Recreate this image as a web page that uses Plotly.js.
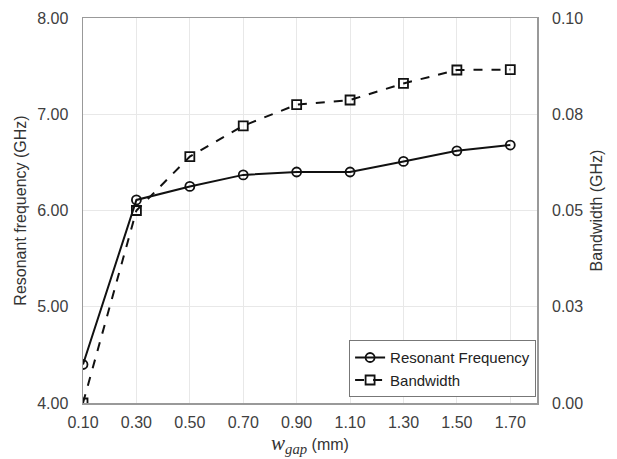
<!DOCTYPE html>
<html>
<head>
<meta charset="utf-8">
<script src="https://cdn.plot.ly/plotly-3.0.1.min.js"></script>
<style>body{margin:0;background:#fff;} #chart{width:617px;height:459px;}</style>
</head>
<body>
<div id="chart"></div>
<script>
const gapWidths = [0.10, 0.30, 0.50, 0.70, 0.90, 1.10, 1.30, 1.50, 1.70];
const resonantFrequency = [4.40, 6.11, 6.25, 6.37, 6.40, 6.40, 6.51, 6.62, 6.68];
const bandwidth = [0.000, 0.050, 0.064, 0.072, 0.0775, 0.0787, 0.0830, 0.0865, 0.0866];
const leftTicks = [4, 5, 6, 7, 8];
const leftTickText = ['4.00', '5.00', '6.00', '7.00', '8.00'];
const rightTicks = [0, 0.025, 0.05, 0.075, 0.1];
const rightTickText = ['0.00', '0.03', '0.05', '0.08', '0.10'];

const fam = 'Liberation Sans, Arial, sans-serif';
const tickFont = {family: fam, size: 16, color: '#404040'};
const titleFont = {family: fam, size: 16, color: '#333'};

const traces = [
  {
    x: gapWidths, y: resonantFrequency, name: 'Resonant Frequency',
    type: 'scatter', mode: 'lines+markers',
    line: {color: '#111', width: 2},
    marker: {symbol: 'circle-open', size: 9, color: '#111', line: {width: 1.8}}
  },
  {
    x: gapWidths, y: bandwidth, name: 'Bandwidth', yaxis: 'y2',
    type: 'scatter', mode: 'lines+markers',
    line: {color: '#111', width: 2, dash: 'dash'},
    marker: {symbol: 'square-open', size: 9, color: '#111', line: {width: 1.8}}
  }
];

const layout = {
  width: 617, height: 459,
  margin: {l: 83, r: 80, t: 18, b: 56},
  paper_bgcolor: '#fff', plot_bgcolor: '#fff',
  font: {family: fam, size: 16, color: '#333'},
  showlegend: true,
  legend: {
    x: 0.998, xanchor: 'right', y: 0.015, yanchor: 'bottom',
    bordercolor: '#777', borderwidth: 1, bgcolor: '#fff',
    font: {family: fam, size: 15, color: '#222'},
    tracegroupgap: 0, itemwidth: 30
  },
  xaxis: {
    range: [0.1, 1.8], tick0: 0.1, dtick: 0.2, tickformat: '.2f',
    showgrid: true, gridcolor: '#e8e8e8', gridwidth: 1,
    showline: true, linecolor: '#999', linewidth: 1.5, mirror: true,
    ticks: '', zeroline: false, ticklabelstandoff: 4,
    tickfont: tickFont,
    title: {text: '<span style="font-family:Liberation Serif, serif;font-style:italic;font-size:21px">w<sub>gap</sub></span> (mm)', font: titleFont, standoff: 4}
  },
  yaxis: {
    range: [4, 8], tickvals: leftTicks, ticktext: leftTickText,
    showgrid: true, gridcolor: '#e8e8e8', gridwidth: 1,
    showline: true, linecolor: '#999', linewidth: 1.5, mirror: true,
    ticks: '', zeroline: false, ticklabelstandoff: 10,
    tickfont: tickFont,
    title: {text: 'Resonant frequency (GHz)', font: titleFont, standoff: 6}
  },
  yaxis2: {
    overlaying: 'y', side: 'right',
    range: [0, 0.1], tickvals: rightTicks, ticktext: rightTickText,
    showgrid: false, showline: false, ticks: '', zeroline: false,
    ticklabelstandoff: 14,
    tickfont: tickFont,
    title: {text: 'Bandwidth (GHz)', font: titleFont, standoff: 8}
  }
};

Plotly.newPlot('chart', traces, layout, {displayModeBar: false, staticPlot: true});
</script>
</body>
</html>
